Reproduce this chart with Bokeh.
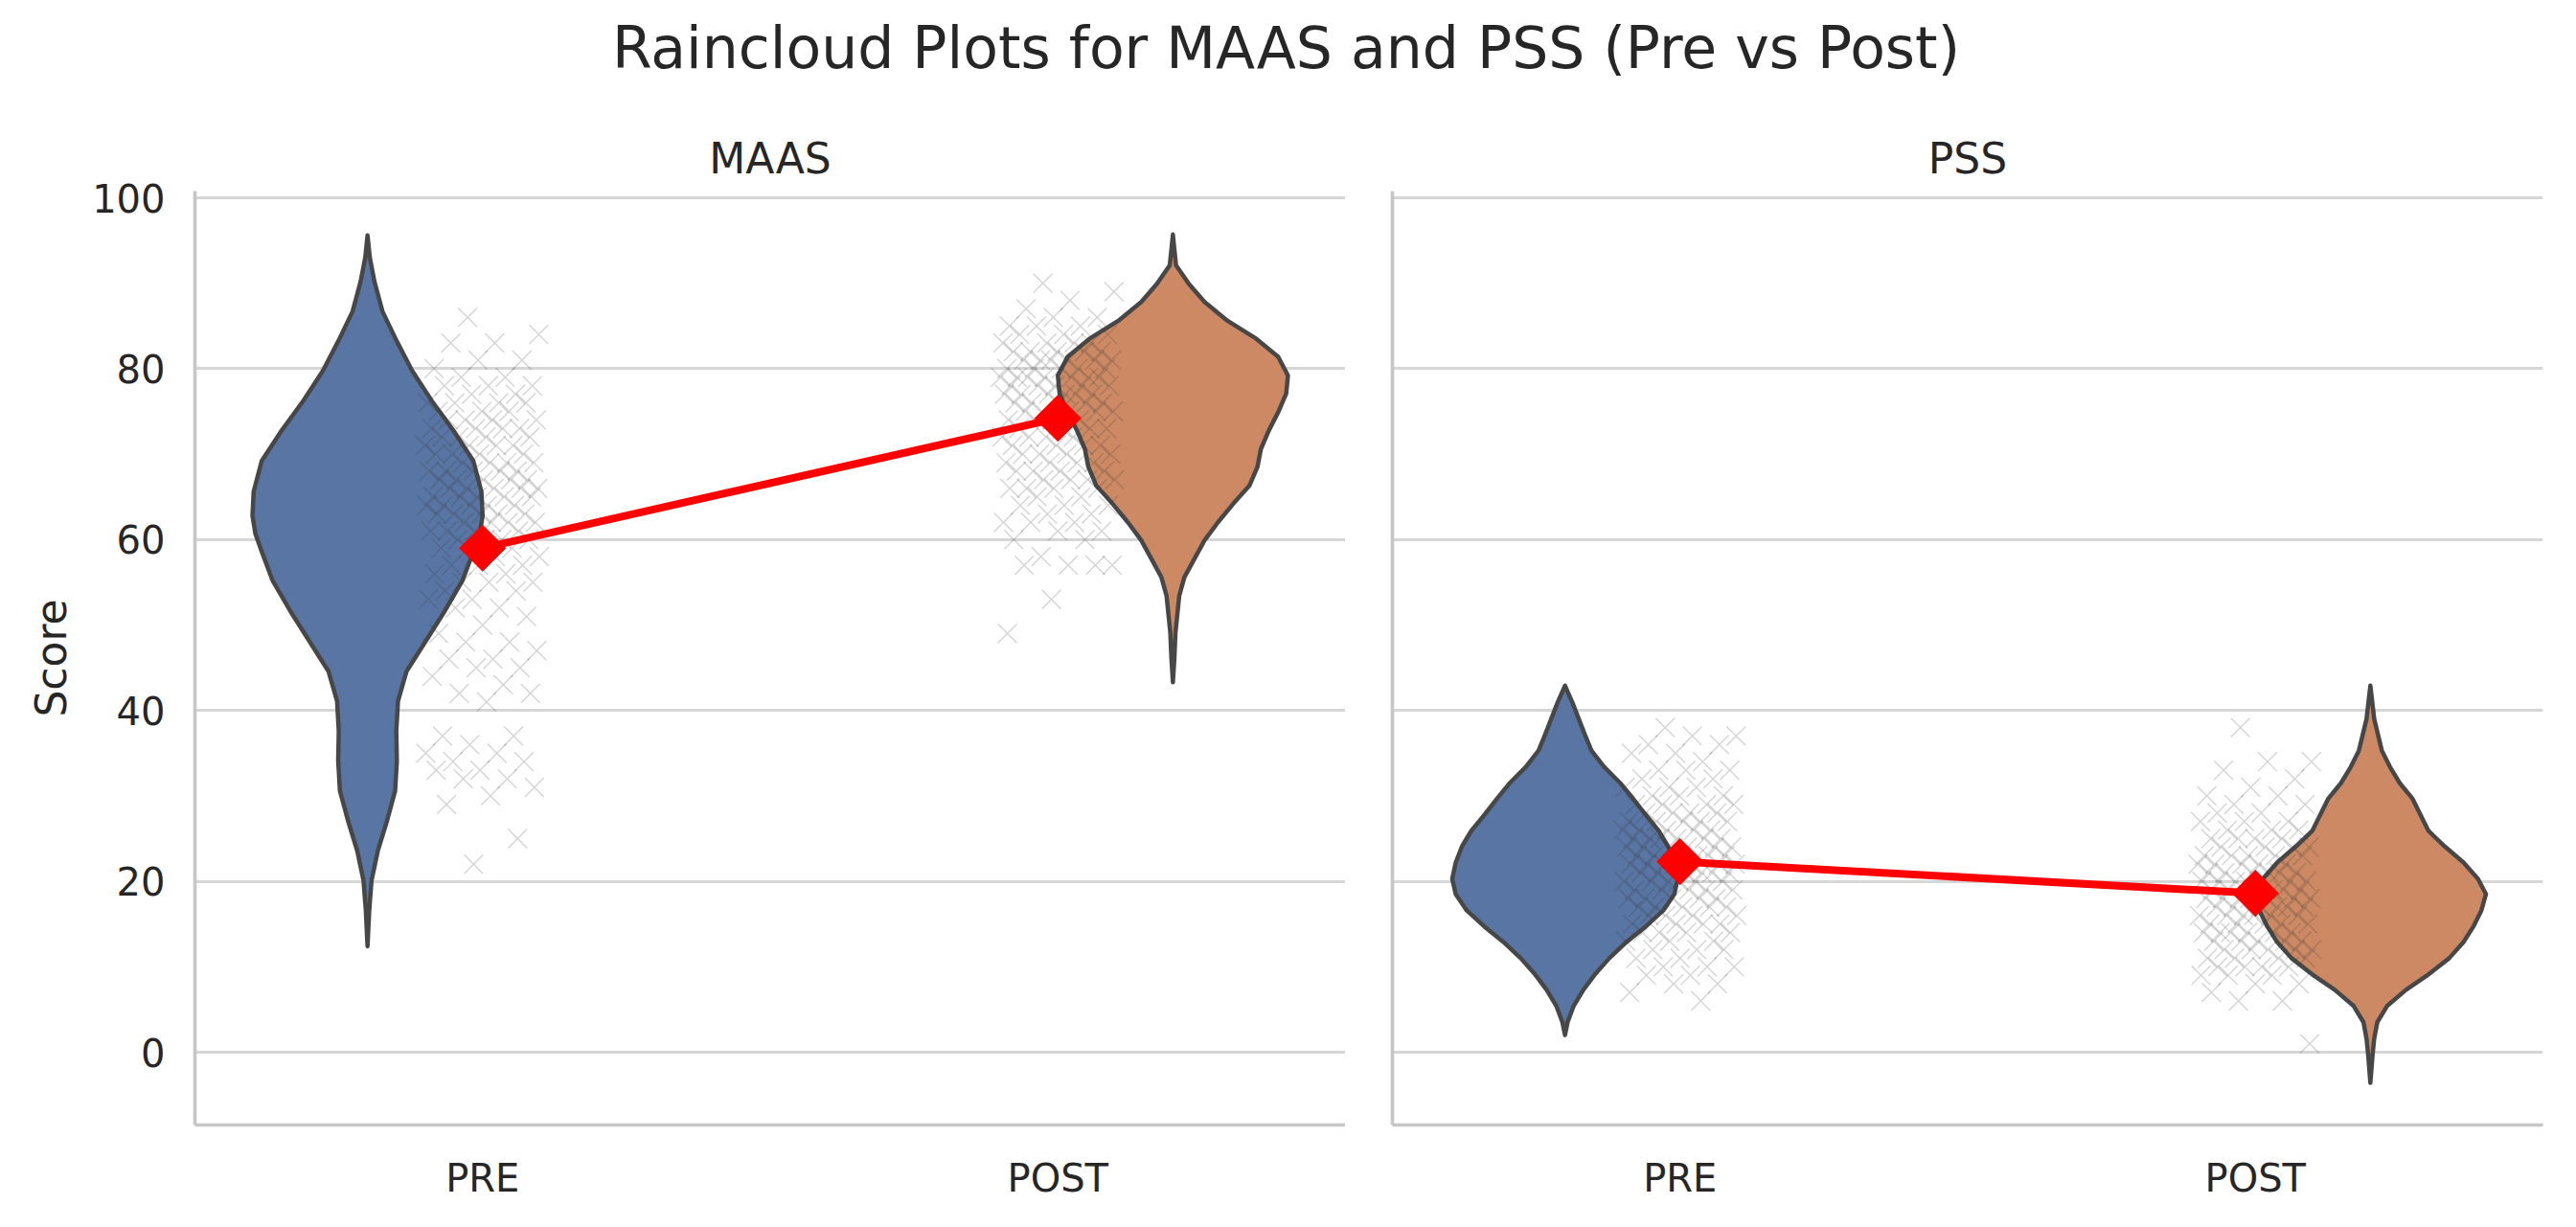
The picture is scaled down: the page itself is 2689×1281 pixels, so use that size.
import math
from bokeh.plotting import figure
from bokeh.layouts import column, row
from bokeh.models import Range1d, FixedTicker
from bokeh.embed import file_html
from bokeh.resources import INLINE
from bokeh.core.properties import value

# ---------------- data ----------------
TITLE = "Raincloud Plots for MAAS and PSS (Pre vs Post)"
panel_names = ["MAAS", "PSS"]
categories = ["PRE", "POST"]
y_ticks = [0, 20, 40, 60, 80, 100]
y_label = "Score"

maas_pre = [86, 84, 83, 83, 81, 81, 80, 79, 79, 78, 78, 78, 77, 77, 76, 76, 76, 76, 75, 75,
            75, 74, 74, 74, 74, 73, 73, 73, 73, 72, 72, 72, 72, 71, 71, 71, 71, 70, 70, 70,
            70, 69, 69, 69, 69, 68, 68, 68, 68, 68, 67, 67, 67, 67, 67, 66, 66, 66, 66, 66,
            65, 65, 65, 65, 65, 64, 64, 64, 64, 64, 63, 63, 63, 63, 63, 62, 62, 62, 62, 61,
            61, 61, 61, 60, 60, 60, 60, 59, 59, 59, 58, 58, 57, 57, 57, 56, 56, 55, 55, 55,
            54, 54, 53, 53, 52, 52, 51, 50, 49, 48, 48, 47, 46, 46, 45, 45, 44, 43, 42, 42,
            41, 37, 37, 36, 35, 35, 34, 34, 33, 33, 32, 32, 31, 30, 29, 25, 22]
maas_post = [90, 89, 88, 87, 86, 86, 85, 85, 85, 84, 84, 84, 83, 83, 83, 83, 82, 82, 82, 82,
             82, 81, 81, 81, 81, 81, 81, 80, 80, 80, 80, 80, 79, 79, 79, 79, 79, 79, 79, 78,
             78, 78, 78, 78, 77, 77, 77, 77, 77, 77, 76, 76, 76, 76, 76, 75, 75, 75, 75, 75,
             74, 74, 74, 74, 73, 73, 73, 73, 72, 72, 72, 72, 71, 71, 71, 71, 70, 70, 70, 70,
             69, 69, 69, 69, 68, 68, 68, 68, 67, 67, 67, 67, 66, 66, 66, 66, 65, 65, 64, 64,
             64, 63, 63, 62, 62, 62, 61, 61, 60, 60, 58, 57, 57, 57, 57, 53, 49]
pss_pre = [38, 37, 37, 36, 36, 35, 35, 34, 33, 33, 33, 32, 32, 31, 31, 31, 30, 30, 30, 29,
           29, 29, 29, 28, 28, 28, 28, 27, 27, 27, 27, 27, 26, 26, 26, 26, 26, 25, 25, 25,
           25, 25, 25, 24, 24, 24, 24, 24, 24, 23, 23, 23, 23, 23, 23, 22, 22, 22, 22, 22,
           22, 22, 21, 21, 21, 21, 21, 21, 20, 20, 20, 20, 20, 20, 19, 19, 19, 19, 19, 18,
           18, 18, 18, 18, 17, 17, 17, 17, 17, 16, 16, 16, 16, 15, 15, 15, 15, 14, 14, 14,
           14, 13, 13, 13, 12, 12, 12, 11, 11, 10, 10, 10, 9, 9, 8, 8, 7, 6]
pss_post = [38, 34, 34, 33, 32, 31, 30, 30, 29, 29, 28, 28, 27, 27, 27, 26, 26, 26, 25, 25,
            25, 25, 24, 24, 24, 24, 23, 23, 23, 23, 23, 22, 22, 22, 22, 22, 21, 21, 21, 21,
            21, 21, 20, 20, 20, 20, 20, 20, 20, 19, 19, 19, 19, 19, 19, 18, 18, 18, 18, 18,
            18, 18, 17, 17, 17, 17, 17, 17, 16, 16, 16, 16, 16, 16, 15, 15, 15, 15, 15, 14,
            14, 14, 14, 14, 14, 13, 13, 13, 13, 13, 12, 12, 12, 12, 12, 11, 11, 11, 11, 10,
            10, 10, 10, 9, 9, 9, 8, 8, 7, 6, 6, 1]

maas_means = [59.0, 74.2]
pss_means = [22.3, 18.6]

# violin outlines: score levels and half-widths (in category units)
maas_pre_vy = [12.4, 16.6, 20.1, 23.6, 27.1, 30.6, 34.1, 37.6, 41.1, 44.6, 48.1, 51.6, 55.2,
               58.6, 60.7, 62.8, 65.6, 69.2, 72.6, 76.2, 79.7, 83.2, 86.7, 90.2, 93.0, 95.6]
maas_pre_vw = [0.0, 0.003, 0.007, 0.018, 0.034, 0.048, 0.051, 0.050, 0.053, 0.068, 0.101, 0.134,
               0.165, 0.184, 0.195, 0.200, 0.198, 0.184, 0.151, 0.112, 0.078, 0.051, 0.026,
               0.012, 0.004, 0.0]
maas_post_vy = [43.3, 46.0, 49.1, 53.4, 55.6, 57.7, 59.9, 62.0, 64.2, 66.3, 68.5, 70.6, 72.8,
                74.9, 77.1, 79.2, 81.4, 83.5, 85.6, 87.8, 89.9, 92.1, 94.0, 95.7]
maas_post_vw = [0.0, 0.0025, 0.0045, 0.011, 0.020, 0.037, 0.055, 0.078, 0.105, 0.133, 0.147,
                0.153, 0.167, 0.183, 0.197, 0.200, 0.183, 0.145, 0.095, 0.055, 0.028, 0.0055,
                0.0025, 0.0]
pss_pre_vy = [2.0, 3.5, 5.4, 7.3, 9.1, 11.0, 12.9, 14.7, 16.6, 18.5, 20.3, 22.2, 24.1, 25.9,
              27.8, 29.7, 31.5, 33.4, 35.3, 37.1, 39.0, 40.9, 42.9]
pss_pre_vw = [0.0, 0.0045, 0.015, 0.032, 0.052, 0.077, 0.107, 0.140, 0.171, 0.190, 0.196, 0.190,
              0.179, 0.163, 0.140, 0.118, 0.096, 0.068, 0.046, 0.035, 0.024, 0.013, 0.0]
pss_post_vy = [-3.6, -0.2, 1.6, 3.5, 5.4, 7.3, 9.1, 11.0, 12.9, 14.7, 16.6, 18.5, 20.3, 22.2,
               24.1, 25.9, 27.8, 29.7, 31.5, 33.4, 35.3, 39.0, 42.9]
pss_post_vw = [0.0, 0.004, 0.0067, 0.012, 0.029, 0.062, 0.101, 0.137, 0.162, 0.179, 0.193,
               0.201, 0.187, 0.162, 0.129, 0.101, 0.087, 0.073, 0.051, 0.034, 0.020, 0.0067, 0.0]

# ---------------- styling / layout ----------------
FONT = "DejaVu Sans"
TEXT_COLOR = "#262626"
PRE_COLOR = "#5875a4"
POST_COLOR = "#cc8963"
EDGE = "#474747"
SPINE = "#c6c6c6"
GRID = "#d6d6d6"

FRAME_W = 1201
FRAME_H = 975
P1_LEFT = 203
P2_LEFT = 49
P2_RIGHT = 30
TOP = 90
BOTTOM = 95
HEADER_H = 109
TOTAL_W = P1_LEFT + FRAME_W + P2_LEFT + FRAME_W + P2_RIGHT

VIOLIN_OFFSET = 0.2
JITTER = 0.1

y_range = Range1d(-8.52, 100.785)


def jitter_offsets(n):
    return [2 * JITTER * ((i * 0.6180339887 + 0.37) % 1.0) - JITTER for i in range(n)]


def add_violin(p, pos, vy, vw, color):
    xs = [pos + w for w in vw] + [pos - w for w in reversed(vw)]
    ys = list(vy) + list(reversed(vy))
    p.patch(xs, ys, fill_color=color, line_color=EDGE, line_width=4.5, line_join="round")


def make_panel(name, pre, post, means, violins, left_border, right_border, show_labels):
    p = figure(width=left_border + FRAME_W + right_border, height=TOP + FRAME_H + BOTTOM,
               x_range=Range1d(-0.5, 1.5), y_range=y_range, title=name,
               output_backend="svg", toolbar_location=None,
               min_border_left=left_border, min_border_right=right_border,
               min_border_top=TOP, min_border_bottom=BOTTOM)
    p.title.align = "center"
    p.title.text_font = FONT
    p.title.text_font_size = "44px"
    p.title.text_font_style = "normal"
    p.title.text_color = TEXT_COLOR
    p.title.standoff = 17
    p.outline_line_color = None
    p.background_fill_color = "white"
    p.border_fill_color = "white"
    p.xgrid.visible = False
    p.ygrid.grid_line_color = GRID
    p.ygrid.grid_line_width = 3

    for ax in (p.xaxis[0], p.yaxis[0]):
        ax.axis_line_color = SPINE
        ax.axis_line_width = 3.6
        ax.major_tick_line_color = None
        ax.minor_tick_line_color = None
        ax.major_tick_out = 0
        ax.major_tick_in = 0
        ax.major_label_text_font = FONT
        ax.major_label_text_color = TEXT_COLOR
        ax.major_label_text_font_size = "40px"

    p.xaxis.ticker = FixedTicker(ticks=list(range(len(categories))))
    p.xaxis.major_label_overrides = {i: c for i, c in enumerate(categories)}
    p.xaxis.major_label_standoff = 32

    p.yaxis.ticker = FixedTicker(ticks=y_ticks)
    if show_labels:
        p.yaxis.major_label_standoff = 31
        p.yaxis.axis_label = y_label
        p.yaxis.axis_label_text_font = FONT
        p.yaxis.axis_label_text_font_size = "44px"
        p.yaxis.axis_label_text_font_style = "normal"
        p.yaxis.axis_label_text_color = TEXT_COLOR
        p.yaxis.axis_label_standoff = 14
    else:
        p.yaxis.major_label_overrides = {t: "" for t in y_ticks}
        p.yaxis.major_label_standoff = 0

    # violins (offset to the left for PRE, to the right for POST)
    (pre_vy, pre_vw), (post_vy, post_vw) = violins
    add_violin(p, 0 - VIOLIN_OFFSET, pre_vy, pre_vw, PRE_COLOR)
    add_violin(p, 1 + VIOLIN_OFFSET, post_vy, post_vw, POST_COLOR)

    # rain (jittered strip points)
    for pos, vals in ((0, pre), (1, post)):
        offs = jitter_offsets(len(vals))
        p.scatter([pos + o for o in offs], vals, marker="x", size=28,
                  line_color="#3a3a3a", line_alpha=0.22, line_width=1.4)

    # mean line + diamond markers
    xs = list(range(len(categories)))
    p.line(xs, means, line_color="red", line_width=8)
    p.scatter(xs, means, marker="square", angle=math.pi / 4, size=34,
              fill_color="red", line_color="red", line_width=1)
    return p


p1 = make_panel(panel_names[0], maas_pre, maas_post, maas_means,
                ((maas_pre_vy, maas_pre_vw), (maas_post_vy, maas_post_vw)),
                P1_LEFT, 0, True)
p2 = make_panel(panel_names[1], pss_pre, pss_post, pss_means,
                ((pss_pre_vy, pss_pre_vw), (pss_post_vy, pss_post_vw)),
                P2_LEFT, P2_RIGHT, False)

# header with the suptitle
header = figure(width=TOTAL_W, height=HEADER_H, x_range=Range1d(0, TOTAL_W),
                y_range=Range1d(0, HEADER_H), output_backend="svg", toolbar_location=None,
                x_axis_location=None, y_axis_location=None, title=None,
                min_border=0, min_border_left=0, min_border_right=0,
                min_border_top=0, min_border_bottom=0)
header.outline_line_color = None
header.grid.visible = False
header.text(x=[TOTAL_W / 2], y=[60], text=[TITLE], text_font=value(FONT),
            text_font_size="60px", text_align="center", text_baseline="middle",
            text_color=TEXT_COLOR)

layout = column(header, row(p1, p2, spacing=0), spacing=0)
open("out.html", "w").write(file_html(layout, INLINE))
